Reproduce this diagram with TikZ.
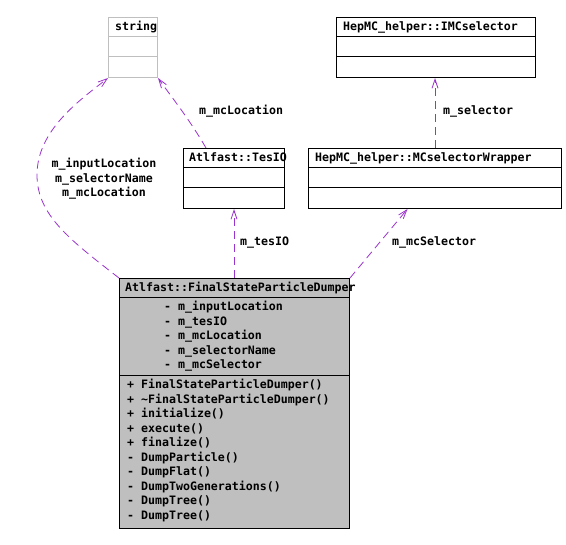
\documentclass[tikz,border=0pt]{standalone}
\usepackage{fontspec}
\setmonofont{DejaVu Sans Mono}
\usetikzlibrary{arrows.meta}
\definecolor{edgecol}{HTML}{9A32CD}
\definecolor{boxgray}{HTML}{BFBFBF}
\begin{document}
\begin{tikzpicture}[x=1pt,y=-1pt,
  txt/.style={font=\ttfamily\bfseries\fontsize{11.6}{14.5}\selectfont, inner sep=0pt, anchor=base west},
  ctxt/.style={font=\ttfamily\bfseries\fontsize{11.6}{14.5}\selectfont, inner sep=0pt, align=center, anchor=north},
  cls/.style={draw=black, line width=1pt, inner sep=0pt, anchor=north west},
  sep/.style={draw=black, line width=1pt},
  dep/.style={draw=edgecol, line width=0.8pt, dash pattern=on 8pt off 5pt,
     -{Straight Barb[length=9pt,width=6pt]}},
]
\useasboundingbox (0,0) rectangle (566,545);
% string
\node[cls, draw=boxgray, minimum width=49pt, minimum height=60pt] (string) at (108,17) {};
\draw[line width=1pt, boxgray] (108,37) -- (157,37) (108,57) -- (157,57);
\node[txt] (stringT) at (115,31) {string};
% IMCselector
\node[cls, minimum width=199pt, minimum height=60pt] (imc) at (336,17) {};
\draw[sep] (336,37) -- (535,37) (336,57) -- (535,57);
\node[txt] (imcT) at (343,31) {HepMC\_helper::IMCselector};
% TesIO
\node[cls, minimum width=101pt, minimum height=60pt] (tesio) at (183,148) {};
\draw[sep] (183,168) -- (284,168) (183,188) -- (284,188);
\node[txt] (tesioT) at (189,162) {Atlfast::TesIO};
% MCselectorWrapper
\node[cls, minimum width=253pt, minimum height=60pt] (wrap) at (308,148) {};
\draw[sep] (308,168) -- (561,168) (308,188) -- (561,188);
\node[txt] (wrapT) at (315,162) {HepMC\_helper::MCselectorWrapper};
% Final
\node[cls, fill=boxgray, minimum width=230pt, minimum height=250pt] (final) at (119,278) {};
\draw[sep] (119,298) -- (349,298) (119,376) -- (349,376);
\node[txt] (finalT) at (125,292) {Atlfast::FinalStateParticleDumper};
\node[txt] (a1) at (164,311) {- m\_inputLocation};
\node[txt] (a2) at (164,325.5) {- m\_tesIO};
\node[txt] (a3) at (164,340) {- m\_mcLocation};
\node[txt] (a4) at (164,354.5) {- m\_selectorName};
\node[txt] (a5) at (164,369) {- m\_mcSelector};
\node[txt] (m1) at (127,389) {+ FinalStateParticleDumper()};
\node[txt] (m2) at (127,403.5) {+ \textasciitilde FinalStateParticleDumper()};
\node[txt] (m3) at (127,418) {+ initialize()};
\node[txt] (m4) at (127,432.5) {+ execute()};
\node[txt] (m5) at (127,447) {+ finalize()};
\node[txt] (m6) at (127,461.5) {- DumpParticle()};
\node[txt] (m7) at (127,476) {- DumpFlat()};
\node[txt] (m8) at (127,490.5) {- DumpTwoGenerations()};
\node[txt] (m9) at (127,505) {- DumpTree()};
\node[txt] (m10) at (127,519.5) {- DumpTree()};
% edges
\draw[dep] (final.north west) .. controls (70,240) and (37,215) .. (37,175)
   .. controls (37,130) and (80,100) .. (string.south west);
\draw[dep] ([xshift=-28pt]tesio.north) .. controls (190,120) and (170,95) .. (string.south east);
\draw[dep] (final.north -| tesio.south) -- (tesio.south);
\draw[dep] (final.north east) -- ([xshift=-27.5pt]wrap.south);
\draw[dep] (wrap.north) -- (wrap.north |- imc.south);
% labels
\node[ctxt] (l1) at (104,158) {m\_inputLocation\\m\_selectorName\\m\_mcLocation};
\node[txt] (l2) at (199,115) {m\_mcLocation};
\node[txt] (l3) at (240,246) {m\_tesIO};
\node[txt] (l4) at (392,246) {m\_mcSelector};
\node[txt] (l5) at (443,115) {m\_selector};
\end{tikzpicture}
\end{document}
